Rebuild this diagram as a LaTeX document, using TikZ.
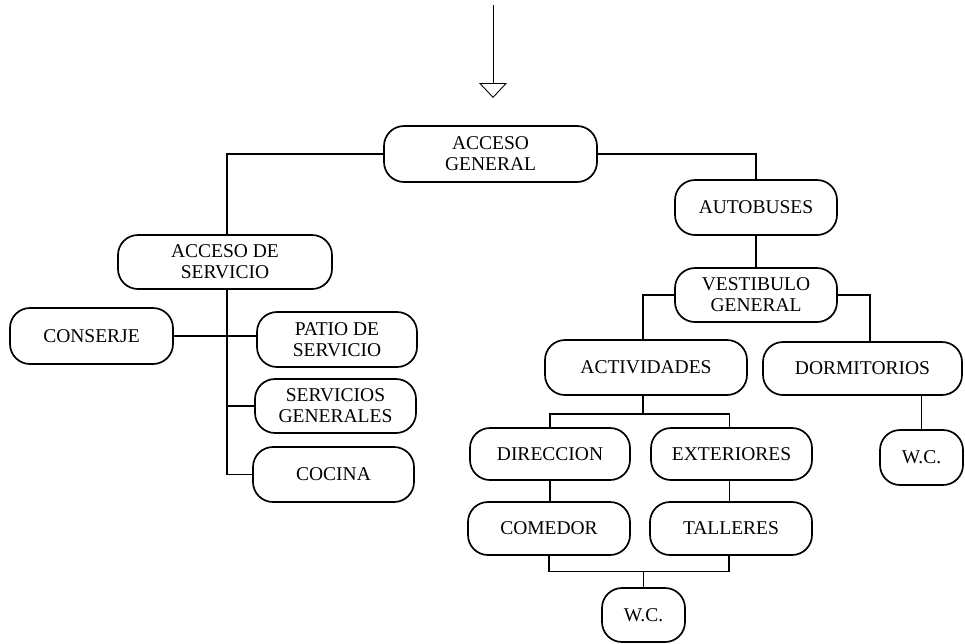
\documentclass[tikz,border=0pt]{standalone}
\usepackage{fontspec}
\setmainfont{Liberation Serif}
\usetikzlibrary{arrows.meta}
\tikzset{
  bx/.style={draw, line width=1.7pt, rounded corners=20pt, align=center,
    inner sep=0pt, font=\fontsize{19.5}{21}\selectfont},
  ln/.style={draw, line width=1.3pt},
}
\begin{document}
\begin{tikzpicture}[x=1pt,y=-1pt]
\useasboundingbox (0,0) rectangle (965,643);
% nodes
\node[bx, minimum width=213pt, minimum height=56pt] (ag) at (490.5,154) {ACCESO\\GENERAL};
\node[bx, minimum width=214pt, minimum height=54pt] (as) at (225,262) {ACCESO DE\\SERVICIO};
\node[bx, minimum width=162pt, minimum height=55pt] (au) at (756,207.5) {AUTOBUSES};
\node[bx, minimum width=162pt, minimum height=54pt] (vg) at (756,295) {VESTIBULO\\GENERAL};
\node[bx, minimum width=163pt, minimum height=56pt] (co) at (91.5,336) {CONSERJE};
\node[bx, minimum width=160pt, minimum height=55pt] (pa) at (337,339.5) {PATIO DE\\SERVICIO};
\node[bx, minimum width=161pt, minimum height=54pt] (sg) at (335.5,406) {SERVICIOS\\GENERALES};
\node[bx, minimum width=161pt, minimum height=55pt] (cc) at (333.5,474.5) {COCINA};
\node[bx, minimum width=202pt, minimum height=55pt] (ac) at (646,367.5) {ACTIVIDADES};
\node[bx, minimum width=199pt, minimum height=53pt] (dm) at (862.5,368.5) {DORMITORIOS};
\node[bx, minimum width=160pt, minimum height=52pt] (di) at (550,454) {DIRECCION};
\node[bx, minimum width=161pt, minimum height=52pt] (ex) at (731.5,454) {EXTERIORES};
\node[bx, minimum width=162pt, minimum height=53pt] (cm) at (549,528.5) {COMEDOR};
\node[bx, minimum width=162pt, minimum height=53pt] (ta) at (731,528.5) {TALLERES};
\node[bx, minimum width=83pt, minimum height=54pt] (wa) at (643.5,615) {W.C.};
\node[bx, minimum width=83pt, minimum height=55pt] (wb) at (921.5,457.5) {W.C.};
% entry arrow
\coordinate (arrS) at (493,5);
\coordinate (arrE) at (493,98);
\draw[line width=0.9pt, -{Triangle[open, length=15pt, width=28pt, line width=0.9pt]}] (arrS) -- (arrE);
% connectors
\draw[ln] (ag.west) -| ([xshift=2pt]as.north);
\draw[ln] (ag.east) -| (au.north);
\draw[ln] (au.south) -- (vg.north);
\draw[ln] (vg.west) -| ([xshift=-3pt]ac.north);
\draw[ln] (vg.east) -| ([xshift=7.5pt]dm.north);
\draw[ln] (wb.north) -- (wb.north |- dm.south);
% service branch
\coordinate (sv) at ([xshift=2pt]as.south);
\draw[ln] (sv) -- (sv |- cc.west) -- (cc.west);
\draw[ln] (co.east) -- (co.east -| pa.west);
\draw[ln] (sv |- sg.west) -- (sg.west);
% activities branch
\draw[ln] ([xshift=-3pt]ac.south) -- ++(0,18) coordinate (j1);
\draw[ln] (di.north) |- (j1) -| ([xshift=-2pt]ex.north);
\draw[ln] (di.south) -- (di.south |- cm.north);
\draw[ln] ([xshift=-2pt]ex.south) -- ([xshift=-2pt]ex.south |- ta.north);
\coordinate (j2) at ([yshift=16pt]wa.north);
\draw[ln] (wa.north) -- (j2);
\draw[ln] (cm.south) |- (j2) -| ([xshift=-2pt]ta.south);
\end{tikzpicture}
\end{document}
